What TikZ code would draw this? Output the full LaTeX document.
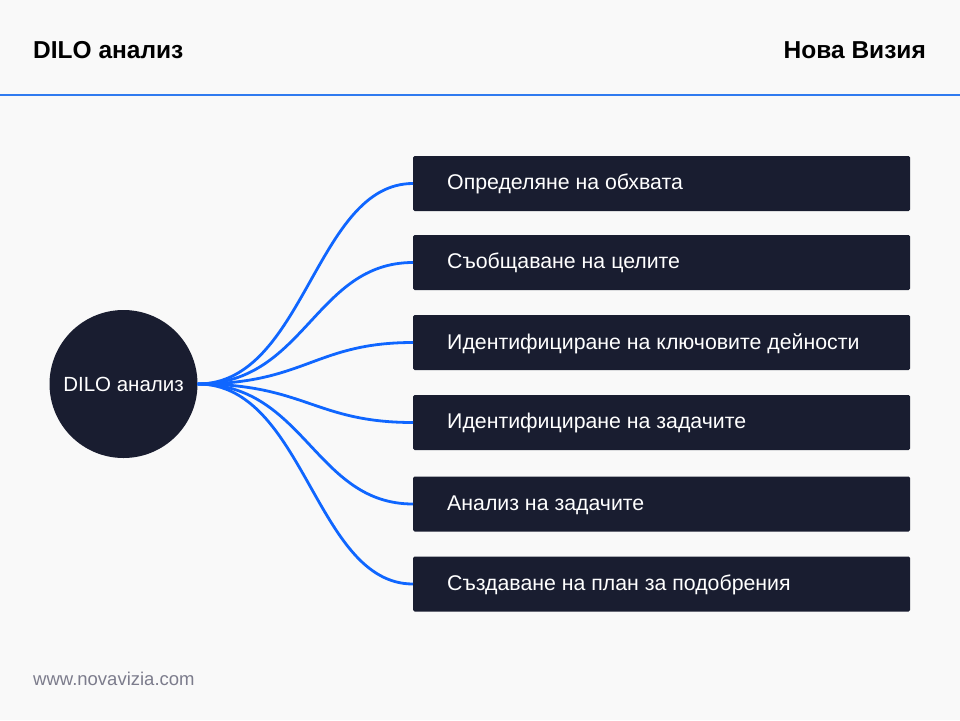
\documentclass[tikz,border=0pt]{standalone}
\usepackage{fontspec}
\setmainfont{Liberation Sans}
\definecolor{bg}{HTML}{F9F9F9}
\definecolor{navy}{HTML}{191D30}
\definecolor{linkblue}{HTML}{0F66FF}
\definecolor{rule}{HTML}{2F7BF0}
\definecolor{footgray}{HTML}{7C7C8C}
\begin{document}
\begin{tikzpicture}[x=1pt,y=-1pt,
  itembox/.style={fill=navy,rounded corners=1.5pt,minimum width=497pt,minimum height=55pt,inner sep=0pt},
  itemtext/.style={text=white,font=\fontsize{21.3}{24}\selectfont,anchor=west,inner sep=0pt},
  link/.style={linkblue,line width=2.8pt}]
\fill[bg] (0,0) rectangle (960,720);
\useasboundingbox (0,0) rectangle (960,720);
\node[anchor=base west,inner sep=0pt,font=\bfseries\fontsize{24.5}{28}\selectfont] (title) at (33,58) {DILO анализ};
\node[anchor=base east,inner sep=0pt,font=\bfseries\fontsize{24.5}{28}\selectfont] (brand) at (926,58) {Нова Визия};
\draw[rule,line width=2pt] (0,95) -- (960,95);
\node[circle,fill=navy,minimum size=148pt,inner sep=0pt,text=white,font=\fontsize{20.5}{24}\selectfont] (hub) at (123.5,384) {DILO анализ};
\foreach \i/\y/\t in {1/183.5/Определяне на обхвата,2/262.5/Съобщаване на целите,3/342.5/Идентифициране на ключовите дейности,4/422.5/Идентифициране на задачите,5/504/Анализ на задачите,6/584/Създаване на план за подобрения}{
  \node[itembox,anchor=west] (b\i) at (413,\y) {};
  \node[itemtext] (t\i) at (447,\y+0.8) {\t};
  \draw[link] (hub.east) .. controls (305,384) and (315,\y) .. (b\i.west);
}
\node[anchor=base west,inner sep=0pt,text=footgray,font=\fontsize{18.5}{22}\selectfont] (foot) at (33,685) {www.novavizia.com};
\end{tikzpicture}
\end{document}
